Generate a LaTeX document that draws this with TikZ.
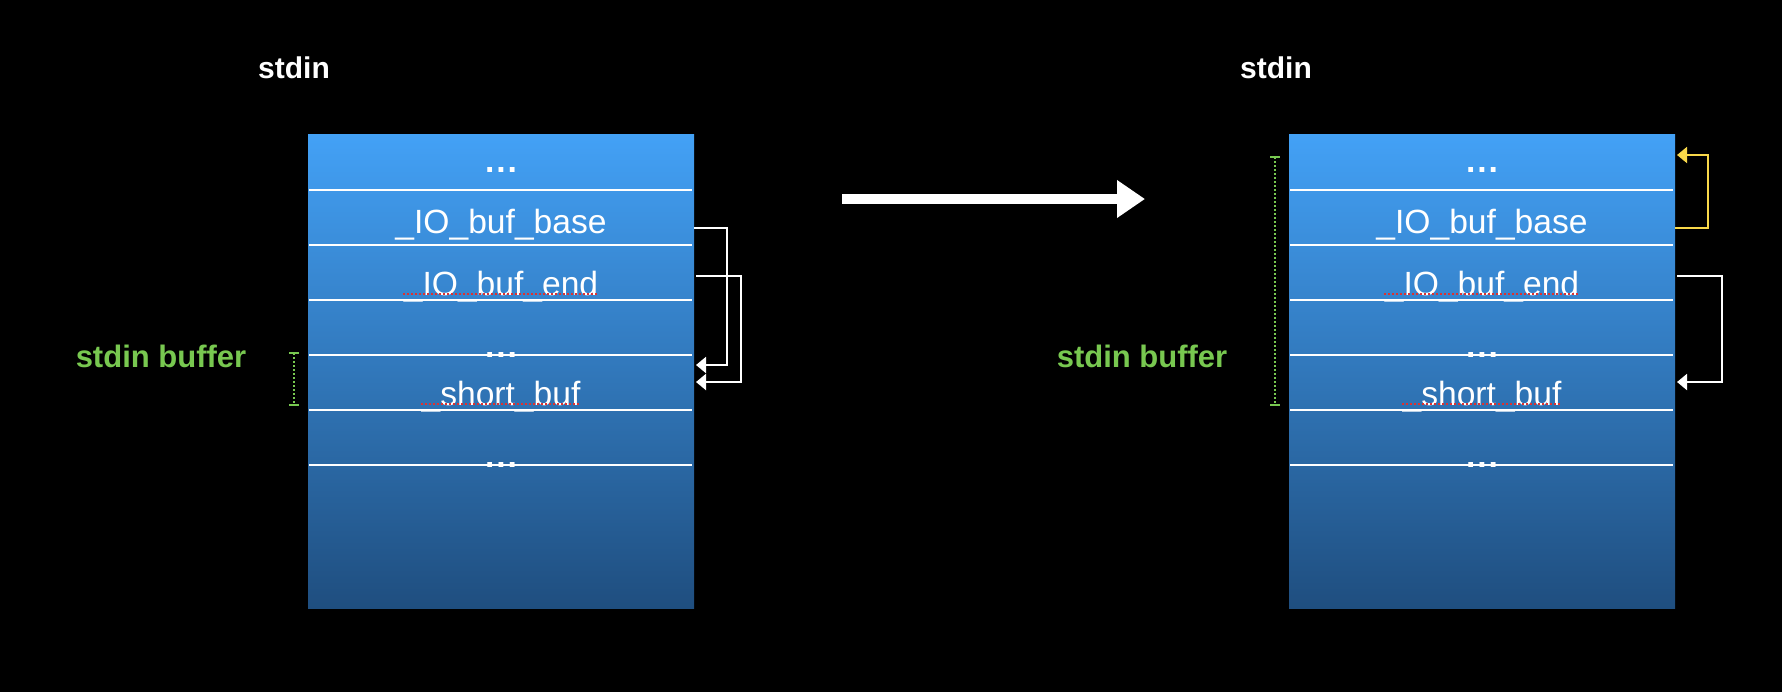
\documentclass[tikz,border=0pt]{standalone}
\usepackage{fontspec}
\setmainfont{Liberation Sans}
\usetikzlibrary{arrows.meta}
\definecolor{boxtop}{RGB}{67,161,246}
\definecolor{boxbot}{RGB}{31,78,127}
\definecolor{bufgreen}{RGB}{120,200,80}
\definecolor{ptryellow}{RGB}{248,216,74}
\definecolor{spellred}{RGB}{220,50,50}
\newcommand{\mydots}{\textbf{.\kern1pt.\kern1pt.}}
\begin{document}
\begin{tikzpicture}[x=0.5pt,y=-0.5pt,
  memblock/.style={rectangle, minimum width=193pt, minimum height=237pt, inner sep=0pt, top color=boxtop, bottom color=boxbot, draw=none},
  cell/.style={anchor=base, text=white, font=\fontsize{16.8}{20}\selectfont, inner sep=0pt},
  sep/.style={draw=white, line width=1pt},
  conn/.style={draw=white, line width=1pt, -{Triangle[length=5pt,width=8pt]}},
  yconn/.style={conn, draw=ptryellow},
  titletext/.style={anchor=base, text=white, font=\bfseries\fontsize{15}{18}\selectfont, inner sep=0pt},
  buflabel/.style={anchor=base, text=bufgreen, font=\bfseries\fontsize{15.5}{18}\selectfont, inner sep=0pt},
  bracket/.style={draw=bufgreen, line width=1pt, dash pattern=on 1pt off 1pt},
  bcap/.style={draw=bufgreen, line width=1pt},
  spell/.style={draw=spellred, line width=1pt, dash pattern=on 1pt off 1pt},
  chalk/.style={draw=white, line width=5pt, -{Triangle[length=14pt,width=18pt]}}
]
\fill[black] (0,0) rectangle (1782,692);
\useasboundingbox (0,0) rectangle (1782,692);

% ---------- left block ----------
\node[titletext] (Ltitle) at (294,78) {stdin};
\node[memblock] (L) at (501,371) {};
\node[cell] (L1) at (501,172) {\mydots};
\node[cell] (L2) at (501,233) {\_IO\_buf\_base};
\node[cell] (L3) at (501,295) {\_IO\_buf\_end};
\node[cell] (L4) at (501,357) {\mydots};
\node[cell] (L5) at (501,405) {\_short\_buf};
\node[cell] (L6) at (501,467) {\mydots};
\draw[spell] ([yshift=0.6pt]L3.base west) -- ([yshift=0.6pt]L3.base east);
\draw[spell] ([yshift=0.3pt]L5.base west) -- ([yshift=0.3pt]L5.base east);
\foreach \yy in {190,245,300,355,410,465} \draw[sep] (309,\yy) -- (692,\yy);

\coordinate (Lbase) at (694,228);
\coordinate (Lend) at (696,276);
\coordinate (Lsb1) at (696,365);
\coordinate (Lsb2) at (696,382);
\draw[conn] (Lbase) -- ++(33,0) |- (Lsb1);
\draw[conn] (Lend) -- ++(45,0) |- (Lsb2);

\coordinate (Lbt) at (294,353);
\coordinate (Lbb) at (294,405);
\draw[bracket] (Lbt) -- (Lbb);
\draw[bcap] ([xshift=-2.5pt]Lbt) -- ([xshift=2.5pt]Lbt);
\draw[bcap] ([xshift=-2.5pt]Lbb) -- ([xshift=2.5pt]Lbb);
\node[buflabel] (Llab) at (161,367) {stdin buffer};

% ---------- middle arrow ----------
\coordinate (As) at (842,199);
\coordinate (Ae) at (1145,199);
\draw[chalk] (As) -- (Ae);

% ---------- right block ----------
\node[titletext] (Rtitle) at (1276,78) {stdin};
\node[memblock] (R) at (1482,371) {};
\node[cell] (R1) at (1482,172) {\mydots};
\node[cell] (R2) at (1482,233) {\_IO\_buf\_base};
\node[cell] (R3) at (1482,295) {\_IO\_buf\_end};
\node[cell] (R4) at (1482,357) {\mydots};
\node[cell] (R5) at (1482,405) {\_short\_buf};
\node[cell] (R6) at (1482,467) {\mydots};
\draw[spell] ([yshift=0.6pt]R3.base west) -- ([yshift=0.6pt]R3.base east);
\draw[spell] ([yshift=0.3pt]R5.base west) -- ([yshift=0.3pt]R5.base east);
\foreach \yy in {190,245,300,355,410,465} \draw[sep] (1290,\yy) -- (1673,\yy);

\coordinate (Rbase) at (1675,228);
\coordinate (Rtop) at (1677,155);
\coordinate (Rend) at (1677,276);
\coordinate (Rsb) at (1677,382);
\draw[yconn] (Rbase) -- ++(33,0) |- (Rtop);
\draw[conn] (Rend) -- ++(45,0) |- (Rsb);

\coordinate (Rbt) at (1275,157);
\coordinate (Rbb) at (1275,405);
\draw[bracket] (Rbt) -- (Rbb);
\draw[bcap] ([xshift=-2.5pt]Rbt) -- ([xshift=2.5pt]Rbt);
\draw[bcap] ([xshift=-2.5pt]Rbb) -- ([xshift=2.5pt]Rbb);
\node[buflabel] (Rlab) at (1142,367) {stdin buffer};
\end{tikzpicture}
\end{document}
